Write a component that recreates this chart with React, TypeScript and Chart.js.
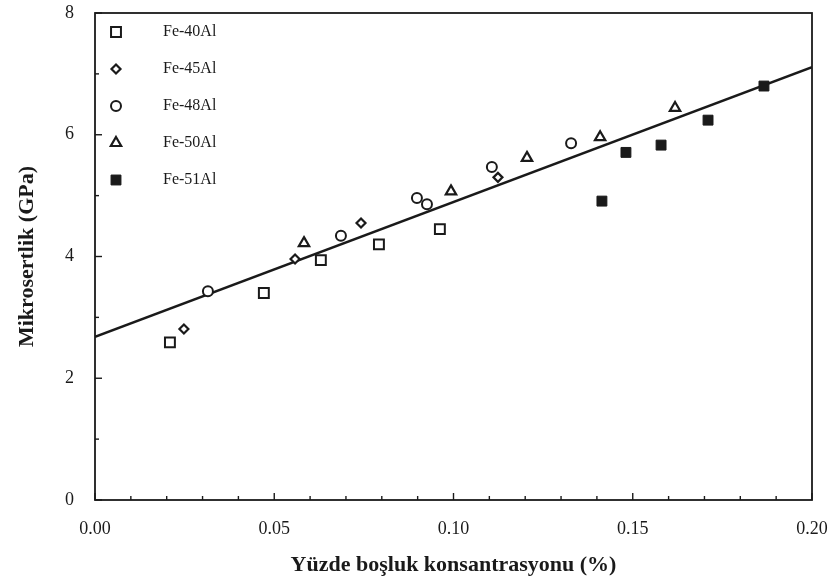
import { useEffect, useRef } from "react";
import { Chart, registerables } from "chart.js";

Chart.register(...registerables);

// ---- data ----
const seriesNames = ["Fe-40Al", "Fe-45Al", "Fe-48Al", "Fe-50Al", "Fe-51Al"];

const fe40X = [0.0209, 0.0471, 0.063, 0.0792, 0.0962];
const fe40Y = [2.59, 3.4, 3.94, 4.2, 4.45];

const fe45X = [0.0248, 0.0558, 0.0742, 0.1124];
const fe45Y = [2.81, 3.96, 4.55, 5.3];

const fe48X = [0.0315, 0.0686, 0.0898, 0.0926, 0.1107, 0.1328];
const fe48Y = [3.43, 4.34, 4.96, 4.86, 5.47, 5.86];

const fe50X = [0.0583, 0.0993, 0.1205, 0.1409, 0.1618];
const fe50Y = [4.22, 5.07, 5.62, 5.96, 6.44];

const fe51X = [0.1414, 0.1481, 0.1579, 0.171, 0.1866];
const fe51Y = [4.91, 5.71, 5.83, 6.24, 6.8];

const fitX = [0, 0.2];
const fitY = [2.68, 7.11];

const xTickLabels = ["0.00", "0.05", "0.10", "0.15", "0.20"];
const yTickLabels = ["0", "2", "4", "6", "8"];

const xTitle = "Yüzde boşluk konsantrasyonu (%)";
const yTitle = "Mikrosertlik (GPa)";

const INK = "#1a1a1a";
const SERIF = "'Liberation Serif', 'DejaVu Serif', serif";

type MarkerStyle = {
  pointStyle: "rect" | "rectRot" | "circle" | "triangle";
  radius: number;
  fill: string;
  borderWidth: number;
};

const markers: MarkerStyle[] = [
  { pointStyle: "rect", radius: 7, fill: "#ffffff", borderWidth: 2 },
  { pointStyle: "rectRot", radius: 4.5, fill: "#ffffff", borderWidth: 2.2 },
  { pointStyle: "circle", radius: 5, fill: "#ffffff", borderWidth: 2 },
  { pointStyle: "triangle", radius: 6, fill: "#ffffff", borderWidth: 2.2 },
  { pointStyle: "rect", radius: 7, fill: INK, borderWidth: 1 },
];

const seriesX = [fe40X, fe45X, fe48X, fe50X, fe51X];
const seriesY = [fe40Y, fe45Y, fe48Y, fe50Y, fe51Y];

function zip(xs: number[], ys: number[]) {
  return xs.map((x, i) => ({ x, y: ys[i] }));
}

function drawMarker(ctx: CanvasRenderingContext2D, m: MarkerStyle, x: number, y: number) {
  ctx.save();
  ctx.lineWidth = m.borderWidth;
  ctx.strokeStyle = INK;
  ctx.fillStyle = m.fill;
  ctx.beginPath();
  const r = m.radius;
  if (m.pointStyle === "rect") {
    const s = Math.SQRT1_2 * r;
    ctx.rect(x - s, y - s, 2 * s, 2 * s);
  } else if (m.pointStyle === "rectRot") {
    ctx.moveTo(x, y - r);
    ctx.lineTo(x + r, y);
    ctx.lineTo(x, y + r);
    ctx.lineTo(x - r, y);
    ctx.closePath();
  } else if (m.pointStyle === "circle") {
    ctx.arc(x, y, r, 0, Math.PI * 2);
  } else {
    const h = r * 1.5;
    ctx.moveTo(x, y - r);
    ctx.lineTo(x + r * Math.cos(Math.PI / 6), y - r + h);
    ctx.lineTo(x - r * Math.cos(Math.PI / 6), y - r + h);
    ctx.closePath();
  }
  ctx.fill();
  ctx.stroke();
  ctx.restore();
}

const framePlugin = {
  id: "frameAndTicks",
  afterDraw(chart: any) {
    const { ctx, chartArea } = chart;
    const xs = chart.scales.x;
    const ys = chart.scales.y;
    ctx.save();
    ctx.strokeStyle = INK;
    ctx.lineWidth = 1.8;
    ctx.strokeRect(chartArea.left, chartArea.top, chartArea.right - chartArea.left, chartArea.bottom - chartArea.top);
    ctx.lineWidth = 1.4;
    // x ticks (inward)
    for (let i = 0; i <= 20; i++) {
      const v = i * 0.01;
      const px = xs.getPixelForValue(v);
      const len = i % 5 === 0 ? 7 : 4;
      ctx.beginPath();
      ctx.moveTo(px, chartArea.bottom);
      ctx.lineTo(px, chartArea.bottom - len);
      ctx.stroke();
    }
    // y ticks (inward)
    for (let i = 0; i <= 8; i++) {
      const py = ys.getPixelForValue(i);
      const len = i % 2 === 0 ? 7 : 4;
      ctx.beginPath();
      ctx.moveTo(chartArea.left, py);
      ctx.lineTo(chartArea.left + len, py);
      ctx.stroke();
    }
    // legend
    ctx.font = `16px ${SERIF}`;
    ctx.fillStyle = INK;
    ctx.textBaseline = "middle";
    ctx.textAlign = "left";
    seriesNames.forEach((name, i) => {
      const y = chartArea.top + 19 + i * 37;
      drawMarker(ctx, markers[i], chartArea.left + 21, y);
      ctx.fillText(name, chartArea.left + 68, y);
    });
    ctx.restore();
  },
};

export default function App() {
  const canvasRef = useRef<HTMLCanvasElement | null>(null);

  useEffect(() => {
    document.body.style.margin = "0";
    const canvas = canvasRef.current;
    if (!canvas) return;

    const datasets: any[] = seriesNames.map((name, i) => ({
      type: "scatter",
      label: name,
      data: zip(seriesX[i], seriesY[i]),
      pointStyle: markers[i].pointStyle,
      pointRadius: markers[i].radius,
      pointBackgroundColor: markers[i].fill,
      pointBorderColor: INK,
      pointBorderWidth: markers[i].borderWidth,
      showLine: false,
    }));
    datasets.push({
      type: "line",
      label: "fit",
      data: zip(fitX, fitY),
      borderColor: INK,
      borderWidth: 2.6,
      pointRadius: 0,
      fill: false,
    });

    const chart = new Chart(canvas, {
      type: "scatter",
      data: { datasets },
      options: {
        animation: false,
        responsive: false,
        maintainAspectRatio: false,
        layout: { padding: { top: 13, right: 23, left: 0, bottom: 0 } },
        plugins: {
          legend: { display: false },
          tooltip: { enabled: false },
        },
        scales: {
          x: {
            type: "linear",
            min: 0,
            max: 0.2,
            afterFit: (s: any) => {
              s.height = 85;
              s.paddingLeft = 0;
              s.paddingRight = 0;
            },
            grid: { display: false },
            border: { display: false },
            ticks: {
              stepSize: 0.05,
              padding: 10,
              color: INK,
              font: { family: SERIF, size: 18 },
              callback: (v: any) => {
                const idx = Math.round(Number(v) / 0.05);
                return xTickLabels[idx] ?? "";
              },
              maxRotation: 0,
            },
            title: {
              display: true,
              text: xTitle,
              color: INK,
              font: { family: SERIF, size: 22, weight: "bold" },
              padding: { top: 0, bottom: 6 },
            },
          },
          y: {
            type: "linear",
            min: 0,
            max: 8,
            afterFit: (s: any) => {
              s.width = 95;
              s.paddingTop = 0;
              s.paddingBottom = 0;
            },
            grid: { display: false },
            border: { display: false },
            ticks: {
              stepSize: 2,
              padding: 13,
              color: INK,
              font: { family: SERIF, size: 18 },
              crossAlign: "center",
              callback: (v: any) => {
                const idx = Math.round(Number(v) / 2);
                return yTickLabels[idx] ?? "";
              },
            },
            title: {
              display: true,
              text: yTitle,
              color: INK,
              font: { family: SERIF, size: 22, weight: "bold" },
              padding: { top: 14, bottom: 0 },
            },
          },
        },
      },
      plugins: [framePlugin],
    } as any);

    return () => chart.destroy();
  }, []);

  return (
    <div style={{ width: 835, height: 585, background: "#fff" }}>
      <canvas ref={canvasRef} width={835} height={585} style={{ display: "block" }} />
    </div>
  );
}
